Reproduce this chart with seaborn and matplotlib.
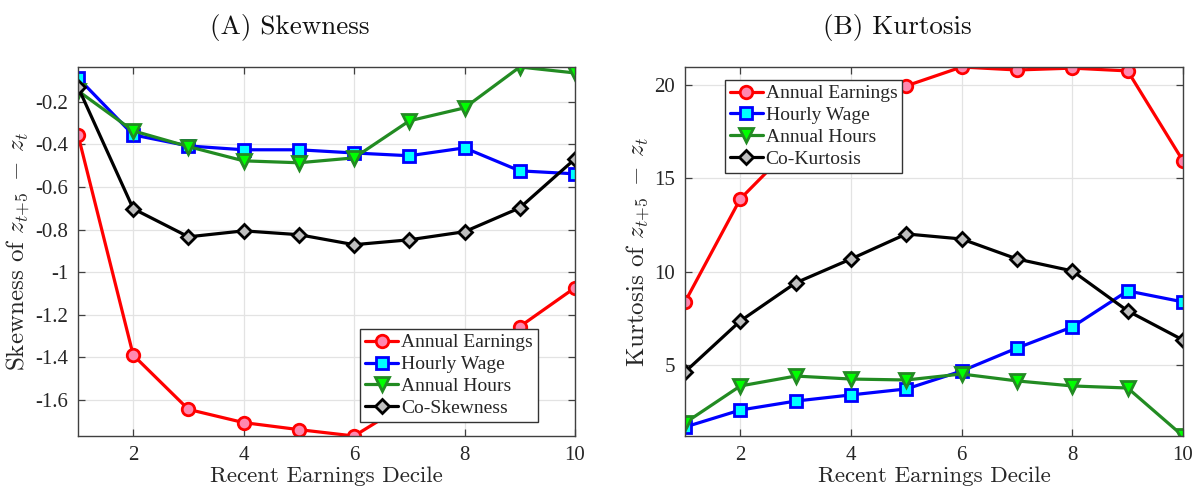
import matplotlib
matplotlib.use("Agg")
import matplotlib.pyplot as plt
import seaborn as sns
import numpy as np

deciles = [1, 2, 3, 4, 5, 6, 7, 8, 9, 10]

# Panel A: Skewness
skew_earn = [-0.355, -1.39, -1.645, -1.707, -1.74, -1.77, -1.61, -1.44, -1.256, -1.073]
skew_wage = [-0.087, -0.355, -0.407, -0.425, -0.425, -0.44, -0.453, -0.416, -0.524, -0.538]
skew_hours = [-0.148, -0.336, -0.41, -0.477, -0.486, -0.463, -0.289, -0.228, -0.036, -0.064]
skew_co = [-0.13, -0.702, -0.834, -0.806, -0.824, -0.871, -0.848, -0.81, -0.698, -0.468]

# Panel B: Kurtosis
kurt_earn = [8.38, 13.9, 16.9, 18.3, 19.95, 20.96, 20.8, 20.9, 20.75, 15.93]
kurt_wage = [1.68, 2.59, 3.07, 3.4, 3.72, 4.68, 5.91, 7.04, 8.97, 8.38]
kurt_hours = [1.9, 3.88, 4.41, 4.25, 4.2, 4.52, 4.15, 3.88, 3.77, 1.2]
kurt_co = [4.63, 7.36, 9.4, 10.68, 12.02, 11.75, 10.68, 10.04, 7.9, 6.34]

xticks = [2, 4, 6, 8, 10]
skew_yticks = [-1.6, -1.4, -1.2, -1.0, -0.8, -0.6, -0.4, -0.2]
skew_yticklabels = ["-1.6", "-1.4", "-1.2", "-1", "-0.8", "-0.6", "-0.4", "-0.2"]
kurt_yticks = [5, 10, 15, 20]
kurt_yticklabels = ["5", "10", "15", "20"]

labels_a = ["Annual Earnings", "Hourly Wage", "Annual Hours", "Co-Skewness"]
labels_b = ["Annual Earnings", "Hourly Wage", "Annual Hours", "Co-Kurtosis"]

sns.set_theme(style="ticks")
plt.rcParams["font.family"] = ["cmr10", "DejaVu Serif"]
plt.rcParams["mathtext.fontset"] = "cm"
plt.rcParams["axes.unicode_minus"] = False

TIMES = ["Liberation Serif", "DejaVu Serif"]

styles = [
    dict(color="#ff0000", marker="o", markerfacecolor="#ff88b0", markeredgecolor="#ff0000"),
    dict(color="#0000ff", marker="s", markerfacecolor="#00ffff", markeredgecolor="#0000ff"),
    dict(color="#228b22", marker="v", markerfacecolor="#00ff00", markeredgecolor="#228b22"),
    dict(color="#000000", marker="D", markerfacecolor="#bfbfbf", markeredgecolor="#000000"),
]
msizes = [9, 8, 9.5, 7.5]

fig = plt.figure(figsize=(11.95, 4.91), dpi=100)
axA = fig.add_axes([78 / 1195, 55 / 491, 497 / 1195, 369 / 491])
axB = fig.add_axes([685 / 1195, 55 / 491, 498 / 1195, 369 / 491])


def draw(ax, series, labels, yticks, yticklabels, title, ylabel, legend_loc, legend_anchor):
    for vals, lab, st, ms in zip(series, labels, styles, msizes):
        sns.lineplot(x=deciles, y=vals, ax=ax, label=lab, linewidth=2.3,
                     markersize=ms, markeredgewidth=2.0, **st)
    allv = np.concatenate([np.asarray(s) for s in series])
    ax.set_xlim(1, 10)
    ax.set_ylim(allv.min(), allv.max())
    ax.set_xticks(xticks)
    ax.set_xticklabels([str(t) for t in xticks], family=TIMES)
    ax.set_yticks(yticks)
    ax.set_yticklabels(yticklabels, family=TIMES)
    ax.grid(True, color="#e3e3e3", linewidth=0.9)
    ax.set_axisbelow(True)
    for sp in ax.spines.values():
        sp.set_visible(True)
        sp.set_color("#404040")
        sp.set_linewidth(1.0)
    ax.tick_params(direction="in", top=True, right=True, length=5, width=0.9,
                   colors="#404040", labelcolor="#262626", labelsize=15, pad=7)
    ax.set_xlabel("Recent Earnings Decile", fontsize=16.5, color="#262626", labelpad=1)
    ax.set_ylabel(ylabel, fontsize=18, color="#262626", labelpad=2)
    ax.set_title(title, fontsize=19.5, color="#111111", pad=24, x=0.427)
    leg = ax.legend(loc=legend_loc, bbox_to_anchor=legend_anchor,
                    prop={"family": TIMES, "size": 14},
                    frameon=True, fancybox=False, edgecolor="#333333", framealpha=1,
                    handlelength=1.7, handletextpad=0.15, borderpad=0.25,
                    labelspacing=0.22, borderaxespad=0)
    leg.get_frame().set_linewidth(1.0)


draw(axA, [skew_earn, skew_wage, skew_hours, skew_co], labels_a,
     skew_yticks, skew_yticklabels, "(A) Skewness",
     r"Skewness of $z_{t{+}5}\;-\;z_t$", "lower right", (0.925, 0.038))
draw(axB, [kurt_earn, kurt_wage, kurt_hours, kurt_co], labels_b,
     kurt_yticks, kurt_yticklabels, "(B) Kurtosis",
     r"Kurtosis of $z_{t{+}5}\;-\;z_t$", "upper left", (0.08, 0.965))

fig.savefig("out.png", dpi=100)
